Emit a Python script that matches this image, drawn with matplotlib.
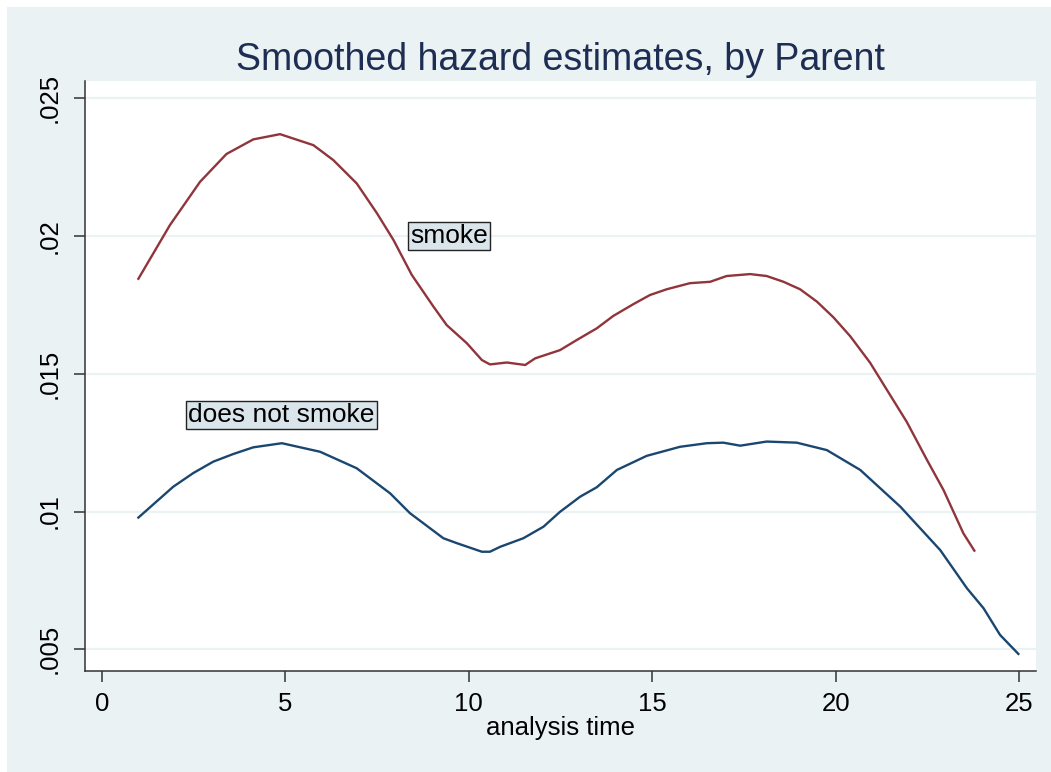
import matplotlib
matplotlib.use("Agg")
import matplotlib.pyplot as plt
from matplotlib.patches import Rectangle

plt.rcParams['font.family'] = ['Liberation Sans', 'DejaVu Sans']

# smoothed hazard, parent smokes
smoke_t = [1.00, 1.86, 2.68, 3.40, 4.13, 4.86, 5.77, 6.31, 6.95, 7.50, 7.95,
           8.45, 9.04, 9.40, 9.95, 10.36, 10.58, 11.04, 11.54, 11.81, 12.49,
           12.95, 13.49, 13.94, 14.49, 14.94, 15.40, 16.03, 16.58, 17.03,
           17.67, 18.12, 18.58, 19.03, 19.49, 19.94, 20.40, 20.94, 21.40,
           21.94, 22.49, 22.94, 23.48, 23.78]
smoke_h = [0.01845, 0.02040, 0.02197, 0.02298, 0.02351, 0.02370, 0.02330,
           0.02276, 0.02191, 0.02083, 0.01986, 0.01859, 0.01744, 0.01677,
           0.01611, 0.01550, 0.01534, 0.01541, 0.01532, 0.01556, 0.01586,
           0.01623, 0.01665, 0.01710, 0.01753, 0.01786, 0.01807, 0.01829,
           0.01834, 0.01855, 0.01862, 0.01855, 0.01834, 0.01807, 0.01762,
           0.01705, 0.01636, 0.01540, 0.01441, 0.01325, 0.01187, 0.01078,
           0.00921, 0.00858]

# smoothed hazard, parent does not smoke
nosmoke_t = [1.00, 1.95, 2.50, 3.04, 3.59, 4.13, 4.91, 5.95, 6.95, 7.86, 8.40,
             9.31, 9.68, 10.36, 10.58, 10.86, 11.49, 12.04, 12.49, 13.04,
             13.49, 14.04, 14.85, 15.76, 16.49, 16.94, 17.40, 18.12, 18.94,
             19.76, 20.67, 21.76, 22.85, 23.58, 24.03, 24.48, 24.98]
nosmoke_h = [0.00978, 0.01090, 0.01140, 0.01181, 0.01209, 0.01233, 0.01248,
             0.01217, 0.01157, 0.01066, 0.00994, 0.00903, 0.00885, 0.00854,
             0.00854, 0.00872, 0.00903, 0.00945, 0.00999, 0.01054, 0.01088,
             0.01151, 0.01202, 0.01235, 0.01248, 0.01250, 0.01239, 0.01254,
             0.01250, 0.01223, 0.01151, 0.01018, 0.00860, 0.00721, 0.00649,
             0.00552, 0.00483]

xticks = [0, 5, 10, 15, 20, 25]
yticks = [0.005, 0.01, 0.015, 0.02, 0.025]
ylabels = ['.005', '.01', '.015', '.02', '.025']

bg = '#EAF2F3'
fig = plt.figure(figsize=(10.51, 7.72), dpi=100, facecolor=bg)
# thin white strips on the top and left edges, as in the screenshot
fig.patches.append(Rectangle((0, 0), 7 / 1051, 1, transform=fig.transFigure,
                             facecolor='white', edgecolor='none'))
fig.patches.append(Rectangle((0, 1 - 7 / 772), 1, 7 / 772, transform=fig.transFigure,
                             facecolor='white', edgecolor='none'))
ax = fig.add_axes([85 / 1051, 101 / 772, 951 / 1051, 590 / 772])
ax.set_facecolor('white')

ax.plot(nosmoke_t, nosmoke_h, color='#1A476F', lw=1.7)
ax.plot(smoke_t, smoke_h, color='#90353B', lw=1.7)

box = dict(boxstyle='square,pad=0.08', facecolor='#D9E5EB', edgecolor='#222222', lw=1)
ax.text(8.4, 0.0200, 'smoke', fontsize=19, va='center', ha='left', bbox=box)
ax.text(2.36, 0.0135, 'does not smoke', fontsize=19, va='center', ha='left', bbox=box)

ax.set_xlim(-0.455, 25.46)
ax.set_ylim(0.00421, 0.02563)
ax.set_xticks(xticks)
ax.set_yticks(yticks)
ax.set_yticklabels(ylabels, rotation=90, va='center')
ax.grid(axis='y', color=bg, lw=1.6)
ax.set_axisbelow(True)
ax.tick_params(axis='both', labelsize=18.5, length=8, width=1.1, color='#333333')
ax.tick_params(axis='x', pad=7)
ax.tick_params(axis='y', pad=9)
for s in ['top', 'right']:
    ax.spines[s].set_visible(False)
for s in ['left', 'bottom']:
    ax.spines[s].set_color('#333333')
    ax.spines[s].set_linewidth(1.1)

ax.set_xlabel('analysis time', fontsize=18.5, labelpad=0)
ax.set_title('Smoothed hazard estimates, by Parent', fontsize=27, color='#1E2D53', pad=8)

plt.savefig('out.png', dpi=100, facecolor=fig.get_facecolor())
